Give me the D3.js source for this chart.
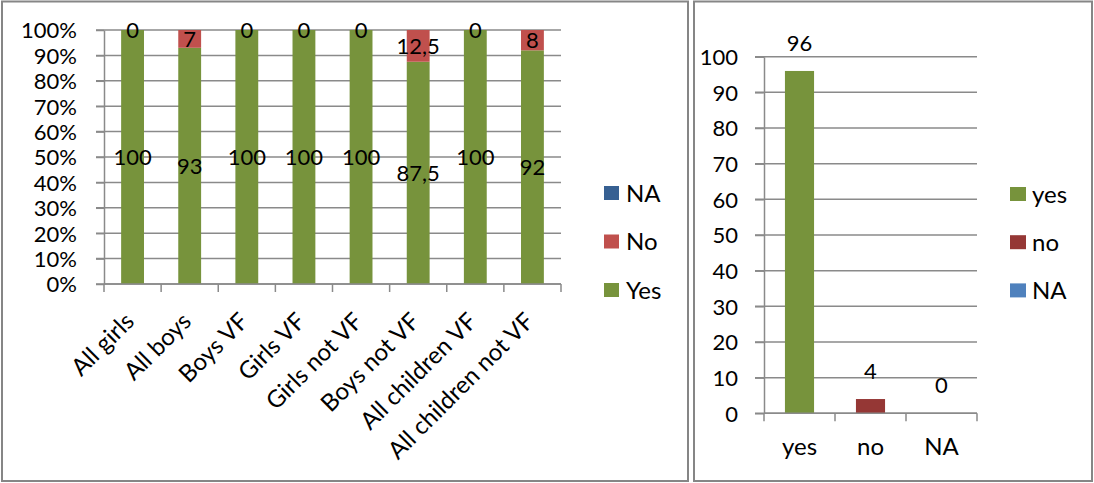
<!DOCTYPE html>
<html>
<head>
<meta charset="utf-8">
<script src="https://cdn.jsdelivr.net/npm/d3@7"></script>
<style>
  html, body { margin: 0; padding: 0; background: #fff; }
  svg { display: block; }
  text { font-family: Lato, "Open Sans", sans-serif; font-size: 24px; fill: #000; }
  text.num { font-size: 22px; }
</style>
</head>
<body>
<svg id="chart" width="1094" height="483"></svg>
<script>
// ---------- data ----------
const categories = ["All girls", "All boys", "Boys VF", "Girls VF", "Girls not VF", "Boys not VF", "All children VF", "All children not VF"];
const yesValues = [100, 93, 100, 100, 100, 87.5, 100, 92];
const noValues = [0, 7, 0, 0, 0, 12.5, 0, 8];
const naValues = [0, 0, 0, 0, 0, 0, 0, 0];
const stackSeries = ["Yes", "No", "NA"];
const stackColors = ["#77933c", "#c0504d", "#376092"];
const percentTicks = [0, 0.1, 0.2, 0.3, 0.4, 0.5, 0.6, 0.7, 0.8, 0.9, 1];

const answers = ["yes", "no", "NA"];
const answerCounts = [96, 4, 0];
const answerColors = ["#77933c", "#953735", "#4f81bd"];
const countTicks = [0, 10, 20, 30, 40, 50, 60, 70, 80, 90, 100];

const svg = d3.select("#chart");
const GRID = "#8a8a8a";
const fmt = v => String(v).replace(".", ",");

// panel borders
svg.append("rect").attr("x", 2).attr("y", 1.5).attr("width", 686).attr("height", 479.5)
  .attr("fill", "none").attr("stroke", "#868686").attr("stroke-width", 2);
svg.append("rect").attr("x", 694).attr("y", 1.5).attr("width", 398).attr("height", 479.5)
  .attr("fill", "none").attr("stroke", "#868686").attr("stroke-width", 2);

// ---------- left: 100% stacked ----------
(function () {
  const rows = categories.map((c, i) => ({ cat: c, Yes: yesValues[i], No: noValues[i], NA: naValues[i] }));
  const stack = d3.stack().keys(stackSeries).offset(d3.stackOffsetExpand);
  const layers = stack(rows);

  const x = d3.scaleBand().domain(categories).range([104, 561]).paddingInner(0.6).paddingOuter(0.3);
  const y = d3.scaleLinear().domain([0, 1]).range([284, 30]);
  const g = svg.append("g");

  // gridlines
  g.selectAll("line.grid").data(percentTicks).join("line")
    .attr("x1", 96).attr("x2", 561).attr("y1", d => y(d)).attr("y2", d => y(d))
    .attr("stroke", GRID).attr("stroke-width", 1.5);

  // y axis
  const ya = g.append("g").attr("transform", "translate(104,0)")
    .call(d3.axisLeft(y).tickValues(percentTicks).tickFormat(d3.format(".0%")).tickSize(8).tickPadding(19).tickSizeOuter(0));
  ya.select(".domain").attr("stroke", GRID).attr("stroke-width", 1.5);
  ya.selectAll(".tick line").attr("stroke", GRID).attr("stroke-width", 1.5);
  ya.selectAll("text").attr("font-family", null).attr("font-size", null).attr("class", "num").attr("dy", "0.36em");

  // bars
  layers.forEach((layer, li) => {
    g.selectAll(null).data(layer).join("rect")
      .attr("x", d => x(d.data.cat)).attr("width", x.bandwidth())
      .attr("y", d => y(d[1])).attr("height", d => y(d[0]) - y(d[1]))
      .attr("fill", stackColors[li]);
  });

  // x axis line + ticks at category boundaries
  g.append("line").attr("x1", 104).attr("x2", 561).attr("y1", 284).attr("y2", 284)
    .attr("stroke", GRID).attr("stroke-width", 1.5);
  const bounds = d3.range(categories.length + 1).map(i => x.range()[0] + i * x.step());
  g.selectAll(null).data(bounds).join("line")
    .attr("x1", d => d).attr("x2", d => d).attr("y1", 284).attr("y2", 292)
    .attr("stroke", GRID).attr("stroke-width", 1.5);

  // category labels
  g.selectAll(null).data(categories).join("text")
    .attr("transform", d => `translate(${x(d) + x.bandwidth() / 2 + 3},323) rotate(-45)`)
    .attr("text-anchor", "end").text(d => d);

  // data labels (Yes and No)
  [0, 1].forEach(li => {
    g.selectAll(null).data(layers[li]).join("text")
      .attr("class", "num")
      .attr("x", d => x(d.data.cat) + x.bandwidth() / 2)
      .attr("y", d => (y(d[0]) + y(d[1])) / 2)
      .attr("dy", "0.36em").attr("text-anchor", "middle")
      .text(d => fmt(d.data[stackSeries[li]]));
  });

  // legend (NA, No, Yes from top)
  const legendOrder = [2, 1, 0];
  const lg = g.selectAll(null).data(legendOrder).join("g")
    .attr("transform", (d, i) => `translate(604,${193 + i * 48.5})`);
  lg.append("rect").attr("x", 0).attr("y", -7).attr("width", 15).attr("height", 14).attr("fill", d => stackColors[d]);
  lg.append("text").attr("x", 22).attr("dy", "0.36em").text(d => stackSeries[d]);
})();

// ---------- right: simple bars ----------
(function () {
  const x = d3.scaleBand().domain(answers).range([764, 977]).paddingInner(0.59).paddingOuter(0.295);
  const y = d3.scaleLinear().domain([0, 100]).range([413.3, 56.7]);
  const g = svg.append("g");

  g.selectAll(null).data(countTicks).join("line")
    .attr("x1", 755).attr("x2", 977).attr("y1", d => y(d)).attr("y2", d => y(d))
    .attr("stroke", GRID).attr("stroke-width", 1.5);

  const ya = g.append("g").attr("transform", "translate(764,0)")
    .call(d3.axisLeft(y).tickValues(countTicks).tickSize(9).tickPadding(17).tickSizeOuter(0));
  ya.select(".domain").attr("stroke", GRID).attr("stroke-width", 1.5);
  ya.selectAll(".tick line").attr("stroke", GRID).attr("stroke-width", 1.5);
  ya.selectAll("text").attr("font-family", null).attr("font-size", null).attr("class", "num").attr("dy", "0.36em");

  g.selectAll(null).data(answers).join("rect")
    .attr("x", d => x(d)).attr("width", x.bandwidth())
    .attr("y", (d, i) => y(answerCounts[i])).attr("height", (d, i) => y(0) - y(answerCounts[i]))
    .attr("fill", (d, i) => answerColors[i]);

  g.append("line").attr("x1", 764).attr("x2", 977).attr("y1", y(0)).attr("y2", y(0))
    .attr("stroke", GRID).attr("stroke-width", 1.5);
  const bounds = d3.range(answers.length + 1).map(i => x.range()[0] + i * x.step());
  g.selectAll(null).data(bounds).join("line")
    .attr("x1", d => d).attr("x2", d => d).attr("y1", y(0)).attr("y2", y(0) + 8)
    .attr("stroke", GRID).attr("stroke-width", 1.5);

  g.selectAll(null).data(answers).join("text")
    .attr("x", d => x(d) + x.bandwidth() / 2).attr("y", 455)
    .attr("text-anchor", "middle").text(d => d);

  g.selectAll(null).data(answers).join("text")
    .attr("class", "num")
    .attr("x", d => x(d) + x.bandwidth() / 2).attr("y", (d, i) => y(answerCounts[i]) - 20)
    .attr("text-anchor", "middle").text((d, i) => fmt(answerCounts[i]));

  const lg = g.selectAll(null).data(answers).join("g")
    .attr("transform", (d, i) => `translate(1010,${194 + i * 48.2})`);
  lg.append("rect").attr("x", 0).attr("y", -7).attr("width", 16).attr("height", 14).attr("fill", (d, i) => answerColors[i]);
  lg.append("text").attr("x", 22).attr("dy", "0.36em").text(d => d);
})();
</script>
</body>
</html>
